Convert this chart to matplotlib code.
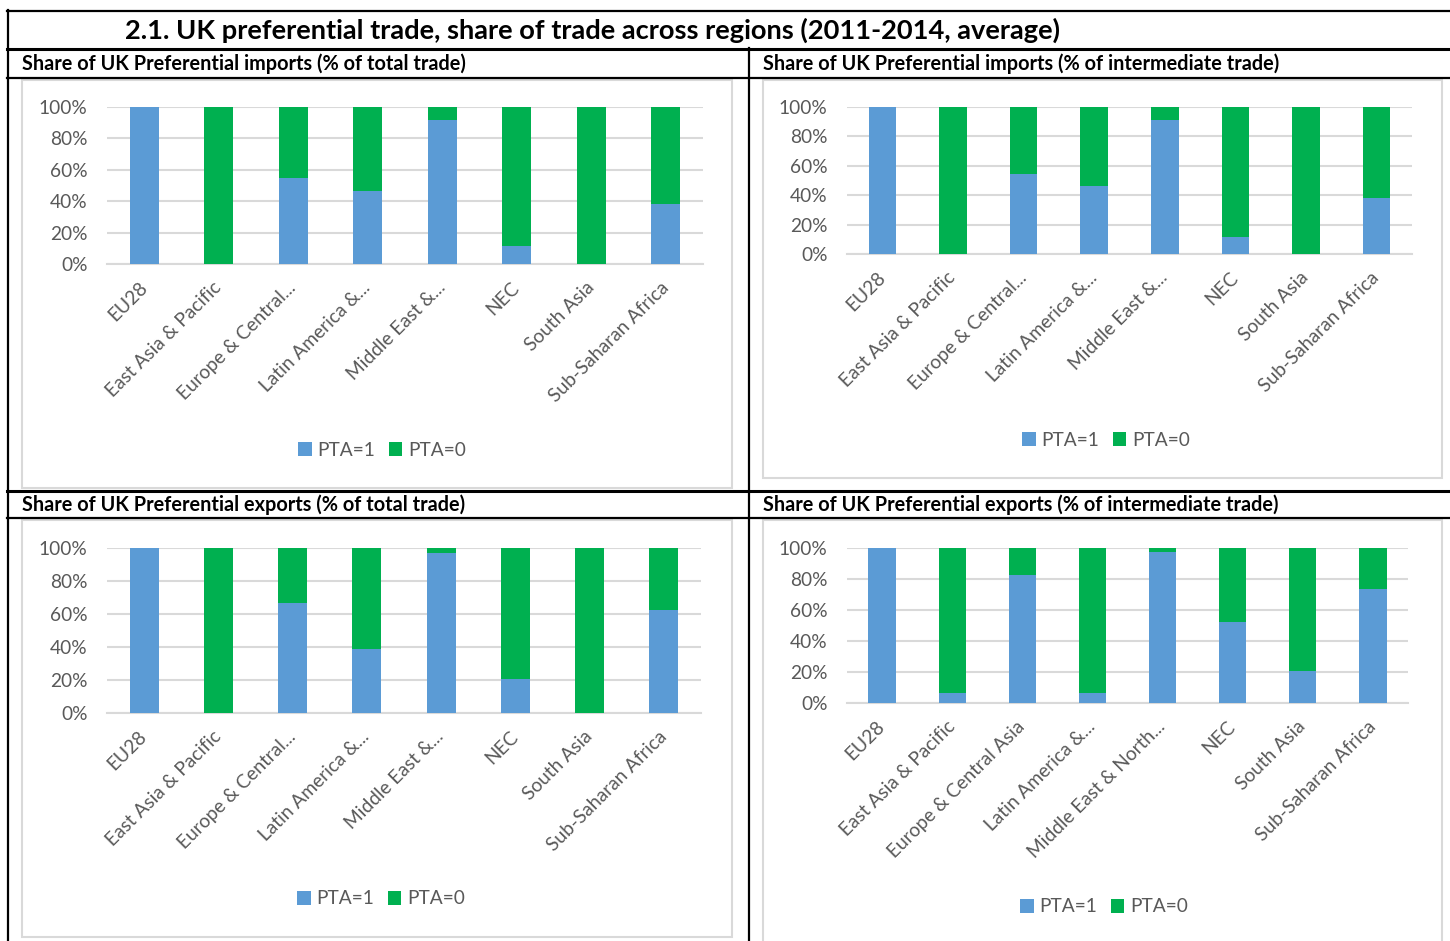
import matplotlib
matplotlib.use("Agg")
import matplotlib.pyplot as plt
from matplotlib.lines import Line2D
from matplotlib.patches import Rectangle, Patch

# ---- data -------------------------------------------------------------
regions_short = ["EU28", "East Asia & Pacific", "Europe & Central...", "Latin America &...",
                 "Middle East &...", "NEC", "South Asia", "Sub-Saharan Africa"]
regions_long = ["EU28", "East Asia & Pacific", "Europe & Central Asia", "Latin America &...",
                "Middle East & North...", "NEC", "South Asia", "Sub-Saharan Africa"]

# share of trade under a preferential agreement (PTA=1), in %
imports_total_pta1 = [100.0, 0.0, 54.7, 46.2, 91.5, 11.7, 0.0, 38.3]
imports_interm_pta1 = [100.0, 0.0, 54.3, 46.1, 91.4, 11.6, 0.0, 38.4]
exports_total_pta1 = [100.0, 0.0, 66.7, 38.8, 97.0, 20.4, 0.0, 62.2]
exports_interm_pta1 = [100.0, 6.7, 82.5, 6.3, 97.4, 52.2, 20.5, 73.5]

title = "2.1. UK preferential trade, share of trade across regions (2011-2014, average)"
panel_titles = ["Share of UK Preferential imports (% of total trade)",
                "Share of UK Preferential imports (% of intermediate trade)",
                "Share of UK Preferential exports (% of total trade)",
                "Share of UK Preferential exports (% of intermediate trade)"]
series_names = ["PTA=1", "PTA=0"]

BLUE = "#5B9BD5"
GREEN = "#00B050"
GRID = "#D9D9D9"
TXT = "#595959"
FONT = "Lato"
TICK_FS = 13.8

W, H = 1450, 941
fig = plt.figure(figsize=(W / 100, H / 100), dpi=100)
fig.patch.set_facecolor("white")


def fx(x):
    return x / W


def fy(y):
    return 1 - y / H


def hline(y, x0, x1, lw):
    fig.add_artist(Line2D([fx(x0), fx(x1)], [fy(y), fy(y)], color="black", lw=lw,
                          transform=fig.transFigure))


def vline(x, y0, y1, lw):
    fig.add_artist(Line2D([fx(x), fx(x)], [fy(y0), fy(y1)], color="black", lw=lw,
                          transform=fig.transFigure))


# ---- table frame ------------------------------------------------------
hline(11, 7, 1460, 1.6)
hline(49, 7, 1460, 2.2)
hline(78, 7, 1460, 1.6)
hline(491, 7, 1460, 2.2)
hline(518, 7, 1460, 1.6)
vline(8, 10, 950, 1.6)
vline(749, 48, 950, 1.6)

fig.text(fx(125), fy(30), title, fontsize=19.6, fontweight="bold", family=FONT,
         ha="left", va="center", color="black")

subtitle_pos = [(22, 64), (763, 64), (22, 505), (763, 505)]
for (sx, sy), t in zip(subtitle_pos, panel_titles):
    fig.text(fx(sx), fy(sy), t, fontsize=14.3, fontweight="bold", family=FONT,
             ha="left", va="center", color="black")

# ---- chart panels -----------------------------------------------------
panels = [
    dict(box=(22, 80, 732, 488), plot=(107, 107, 703, 264), leg=(382, 450),
         vals=imports_total_pta1, labels=regions_short),
    dict(box=(763, 80, 1442, 478), plot=(847, 107, 1412, 254), leg=(1106, 440),
         vals=imports_interm_pta1, labels=regions_short),
    dict(box=(22, 520, 732, 937), plot=(107, 548, 701, 713), leg=(381, 899),
         vals=exports_total_pta1, labels=regions_short),
    dict(box=(763, 520, 1442, 960), plot=(847, 548, 1408, 703), leg=(1104, 907),
         vals=exports_interm_pta1, labels=regions_long),
]

for p in panels:
    bx0, by0, bx1, by1 = p["box"]
    fig.add_artist(Rectangle((fx(bx0), fy(by1)), fx(bx1 - bx0), (by1 - by0) / H,
                             transform=fig.transFigure, facecolor="white",
                             edgecolor=GRID, lw=1.5, zorder=0))
    px0, py0, px1, py1 = p["plot"]
    ax = fig.add_axes([fx(px0), fy(py1), fx(px1 - px0), (py1 - py0) / H])
    ax.set_facecolor("none")
    pta1 = p["vals"]
    pta0 = [100 - v for v in pta1]
    xs = list(range(len(pta1)))
    ax.bar(xs, pta1, width=0.39, color=BLUE, zorder=3)
    ax.bar(xs, pta0, width=0.39, bottom=pta1, color=GREEN, zorder=3)
    ax.set_xlim(-0.5, len(xs) - 0.5)
    ax.set_ylim(0, 100)
    ax.set_yticks(range(0, 101, 20))
    ax.set_yticklabels([f"{v}%" for v in range(0, 101, 20)], family=FONT,
                       fontsize=TICK_FS, color=TXT)
    ax.set_xticks(xs)
    ax.set_xticklabels(p["labels"], rotation=45, ha="right", va="center",
                       rotation_mode="anchor", family=FONT, fontsize=TICK_FS, color=TXT)
    ax.tick_params(axis="both", length=0)
    ax.tick_params(axis="x", pad=15)
    ax.tick_params(axis="y", pad=14)
    ax.grid(axis="y", color=GRID, lw=1.5, zorder=0)
    for s in ["left", "right", "top"]:
        ax.spines[s].set_visible(False)
    ax.spines["bottom"].set_color(GRID)
    ax.spines["bottom"].set_linewidth(1.5)

    lx, ly = p["leg"]
    handles = [Patch(facecolor=BLUE), Patch(facecolor=GREEN)]
    fig.legend(handles, series_names, loc="center", bbox_to_anchor=(fx(lx), fy(ly)),
               ncol=2, frameon=False, handlelength=0.7, handleheight=0.7,
               handletextpad=0.3, columnspacing=0.7,
               prop={"family": FONT, "size": TICK_FS}, labelcolor=TXT)

fig.savefig("out.png", dpi=100, facecolor="white")
